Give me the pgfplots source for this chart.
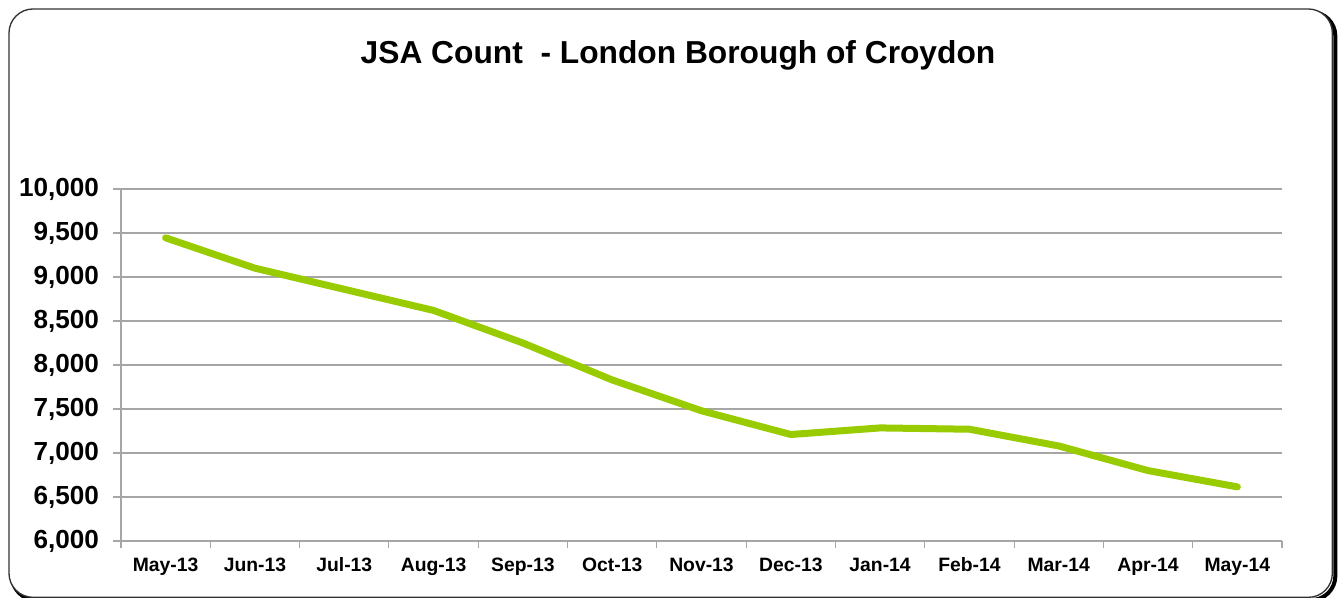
\documentclass[border=0pt]{standalone}
\usepackage{fontspec}
\setmainfont{Liberation Sans}
\usepackage{pgfplots}
\pgfplotsset{compat=1.18}
\definecolor{jsagreen}{HTML}{99CC00}
\definecolor{gridgray}{HTML}{A6A6A6}
\begin{document}
\begin{tikzpicture}
\path[use as bounding box] (0,0) rectangle (1007.25pt,448.5pt);
% frame with shadow
\draw[line width=3pt, black, rounded corners=18pt] (9pt,-1.5pt) rectangle (1001.5pt,439.5pt);
\draw[line width=1pt, black!80, fill=white, rounded corners=18pt] (6.75pt,0.5pt) rectangle (999.25pt,441.75pt);
\node[font=\fontsize{23.8}{23.8}\selectfont\bfseries] at (508.5pt,407.25pt) {JSA Count\ \ - London Borough of Croydon};
\begin{axis}[
  at={(90.75pt,42.75pt)}, anchor=south west,
  scale only axis, width=870.75pt, height=264pt,
  xmin=-0.5, xmax=12.5, ymin=6000, ymax=10000,
  ytick={6000,6500,...,10000},
  xtick={0,...,12},
  xticklabels={May-13,Jun-13,Jul-13,Aug-13,Sep-13,Oct-13,Nov-13,Dec-13,Jan-14,Feb-14,Mar-14,Apr-14,May-14},
  minor xtick={-0.5,0.5,...,12.5},
  axis x line*=bottom, axis y line*=left,
  axis line style={gridgray, line width=1pt, -},
  tick align=outside,
  major tick length=6pt, minor tick length=5pt,
  tick style={gridgray, line width=0.8pt},
  major x tick style={draw=none},
  ymajorgrids, grid style={gridgray, line width=0.9pt},
  yticklabel style={font=\fontsize{19.6}{19.6}\selectfont\bfseries, xshift=-7pt},
  xticklabel style={font=\fontsize{14.5}{14.5}\selectfont\bfseries, text height=10.5pt, text depth=3pt, yshift=-3pt},
  /pgf/number format/assume math mode=true,
  /pgf/number format/1000 sep={,},
  scaled y ticks=false,
  clip=false,
]
\addplot[jsagreen, line width=5.25pt, line cap=round, line join=round] coordinates {
 (0,9445) (1,9100) (2,8860) (3,8620) (4,8250) (5,7830) (6,7480) (7,7210) (8,7285) (9,7270) (10,7080) (11,6800) (12,6615)
};
\end{axis}
\end{tikzpicture}
\end{document}
